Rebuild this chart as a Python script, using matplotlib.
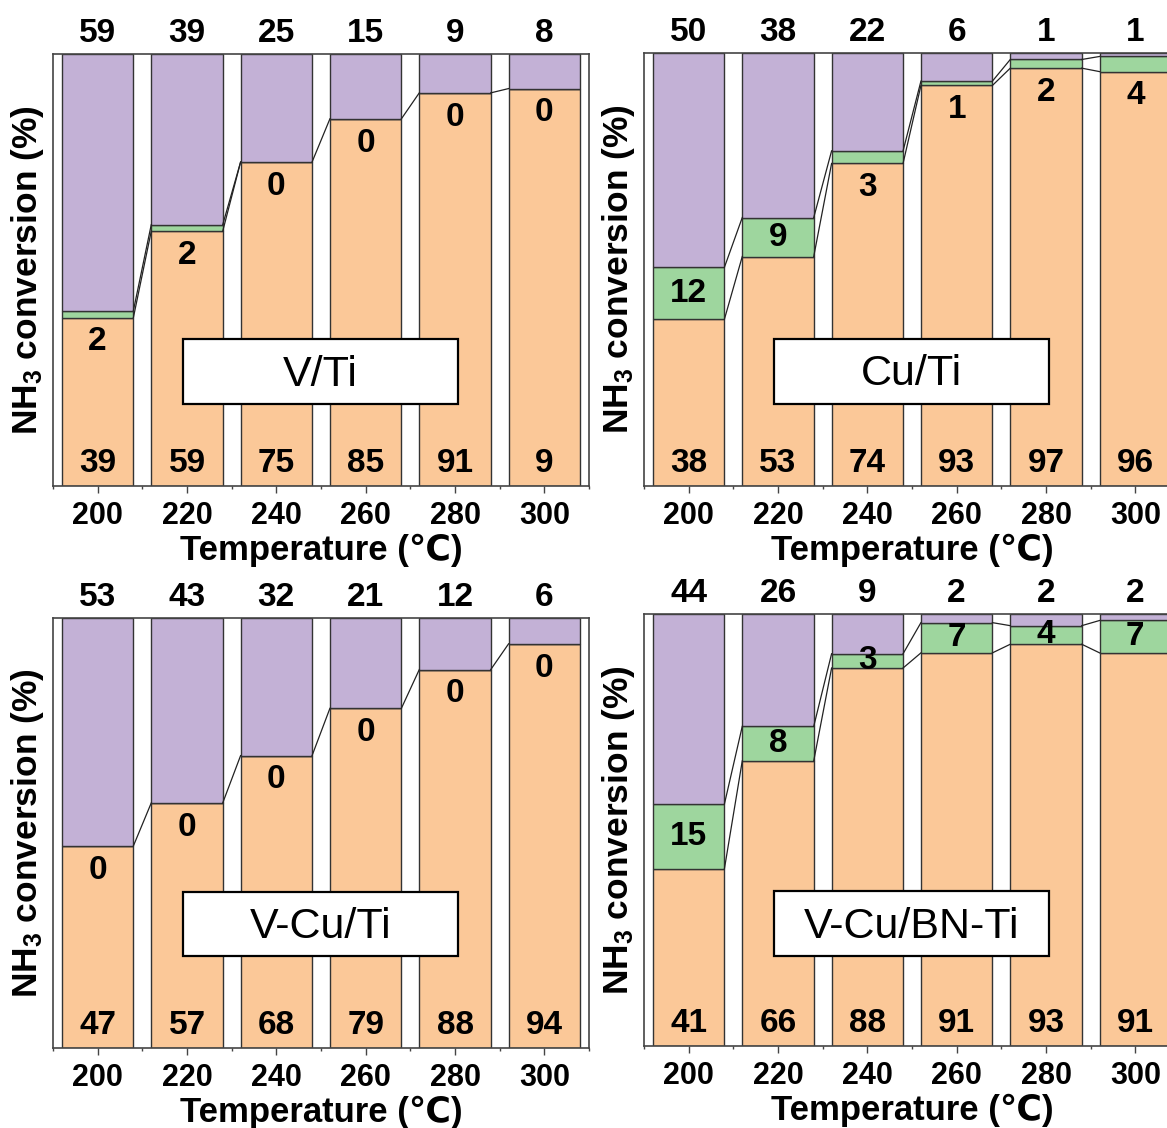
import matplotlib
matplotlib.use("Agg")
import matplotlib.pyplot as plt
from matplotlib.patches import Rectangle

plt.rcParams['font.family'] = ['Liberation Sans', 'DejaVu Sans']
plt.rcParams['mathtext.fontset'] = 'custom'
plt.rcParams['mathtext.rm'] = 'Liberation Sans:bold'
plt.rcParams['mathtext.default'] = 'rm'

# ---------------- data ----------------
temperatures = [200, 220, 240, 260, 280, 300]
catalysts = ["V/Ti", "Cu/Ti", "V-Cu/Ti", "V-Cu/BN-Ti"]

# V/Ti
vti_orange = [39, 59, 75, 85, 91, 92]
vti_green = [1.6, 1.5, 0, 0, 0, 0]
vti_purple = [59.4, 39.5, 25, 15, 9, 8]
vti_orange_lbl = ["39", "59", "75", "85", "91", "9"]
vti_green_lbl = ["2", "2", "0", "0", "0", "0"]
vti_purple_lbl = ["59", "39", "25", "15", "9", "8"]
vti_inside = [False, False, False, False, False, False]

# Cu/Ti
cuti_orange = [38.5, 53, 74.5, 92.5, 96.5, 95.7]
cuti_green = [12, 9, 2.9, 1, 2, 3.5]
cuti_purple = [49.5, 38, 22.6, 6.5, 1.5, 0.8]
cuti_orange_lbl = ["38", "53", "74", "93", "97", "96"]
cuti_green_lbl = ["12", "9", "3", "1", "2", "4"]
cuti_purple_lbl = ["50", "38", "22", "6", "1", "1"]
cuti_inside = [True, True, False, False, False, False]

# V-Cu/Ti
vcuti_orange = [47, 57, 68, 79, 88, 94]
vcuti_green = [0, 0, 0, 0, 0, 0]
vcuti_purple = [53, 43, 32, 21, 12, 6]
vcuti_orange_lbl = ["47", "57", "68", "79", "88", "94"]
vcuti_green_lbl = ["0", "0", "0", "0", "0", "0"]
vcuti_purple_lbl = ["53", "43", "32", "21", "12", "6"]
vcuti_inside = [False, False, False, False, False, False]

# V-Cu/BN-Ti
bn_orange = [41, 66, 87.5, 91, 93, 91]
bn_green = [15, 8, 3.3, 7, 4.3, 7.5]
bn_purple = [44, 26, 9.2, 2, 2.7, 1.5]
bn_orange_lbl = ["41", "66", "88", "91", "93", "91"]
bn_green_lbl = ["15", "8", "3", "7", "4", "7"]
bn_purple_lbl = ["44", "26", "9", "2", "2", "2"]
bn_inside = [True, True, True, True, True, True]

panels = [
    (vti_orange, vti_green, vti_purple, vti_orange_lbl, vti_green_lbl, vti_purple_lbl, vti_inside),
    (cuti_orange, cuti_green, cuti_purple, cuti_orange_lbl, cuti_green_lbl, cuti_purple_lbl, cuti_inside),
    (vcuti_orange, vcuti_green, vcuti_purple, vcuti_orange_lbl, vcuti_green_lbl, vcuti_purple_lbl, vcuti_inside),
    (bn_orange, bn_green, bn_purple, bn_orange_lbl, bn_green_lbl, bn_purple_lbl, bn_inside),
]

# ---------------- style ----------------
C_ORANGE = "#FBC898"
C_GREEN = "#9ED69E"
C_PURPLE = "#C3B1D6"
EDGE = "#333333"
W, H = 1167, 1128
BAR_W = 16
NUM_FS = 24

# axes boxes in pixels: left, top, right, bottom
boxes = [(53, 54, 589, 486), (644, 53, 1180, 486),
         (53, 618, 589, 1048), (644, 614, 1180, 1046)]
label_box_y = [0.19, 0.19, 0.213, 0.208]

fig = plt.figure(figsize=(W / 100, H / 100), dpi=100)

for idx, (orange, green, purple, olbl, glbl, plbl, inside) in enumerate(panels):
    l, t, r, b = boxes[idx]
    ax = fig.add_axes([l / W, 1 - b / H, (r - l) / W, (b - t) / H])
    cum = [o + g for o, g in zip(orange, green)]
    ax.bar(temperatures, orange, width=BAR_W, color=C_ORANGE, edgecolor=EDGE, linewidth=1, zorder=2)
    ax.bar(temperatures, green, width=BAR_W, bottom=orange, color=C_GREEN, edgecolor=EDGE, linewidth=1, zorder=2)
    ax.bar(temperatures, purple, width=BAR_W, bottom=cum, color=C_PURPLE, edgecolor=EDGE, linewidth=1, zorder=2)

    # connecting lines between adjacent bars
    for i in range(len(temperatures) - 1):
        x0 = temperatures[i] + BAR_W / 2
        x1 = temperatures[i + 1] - BAR_W / 2
        ax.plot([x0, x1], [orange[i], orange[i + 1]], color="#222222", lw=0.9, zorder=3)
        if green[i] > 0 or green[i + 1] > 0:
            ax.plot([x0, x1], [cum[i], cum[i + 1]], color="#222222", lw=0.9, zorder=3)

    for i, x in enumerate(temperatures):
        # unconverted (top) labels
        ax.annotate(plbl[i], xy=(x, 1), xycoords=('data', 'axes fraction'),
                    xytext=(0, 14.5), textcoords='offset points', ha='center', va='center',
                    fontsize=NUM_FS, fontweight='bold', annotation_clip=False)
        # orange labels at bottom
        ax.annotate(olbl[i], xy=(x, 0), xycoords=('data', 'axes fraction'),
                    xytext=(0, 16.5), textcoords='offset points', ha='center', va='center',
                    fontsize=NUM_FS, fontweight='bold', annotation_clip=False, zorder=4)
        # green labels
        if inside[i]:
            ax.text(x, orange[i] + green[i] / 2, glbl[i], ha='center', va='center',
                    fontsize=NUM_FS, fontweight='bold', zorder=4)
        else:
            ax.annotate(glbl[i], xy=(x, orange[i]), xytext=(0, -17.5),
                        textcoords='offset points', ha='center', va='center',
                        fontsize=NUM_FS, fontweight='bold', zorder=4)

    # catalyst label box
    by = label_box_y[idx]
    ax.add_patch(Rectangle((0.242, by), 0.514, 0.15, transform=ax.transAxes,
                           facecolor='white', edgecolor='black', linewidth=1.6, zorder=5))
    ax.text(0.499, by + 0.068, catalysts[idx], transform=ax.transAxes, ha='center', va='center',
            fontsize=31, zorder=6)

    ax.set_xlim(190, 310)
    ax.set_ylim(0, 100)
    ax.set_xticks(temperatures)
    ax.set_xticklabels([str(tk) for tk in temperatures])
    ax.set_xticks([190, 210, 230, 250, 270, 290, 310], minor=True)
    ax.tick_params(axis='x', which='major', length=5, width=1, pad=5.5, labelsize=22,
                   color='#444444')
    ax.tick_params(axis='x', which='minor', length=2.5, width=1, color='#444444')
    for lab in ax.get_xticklabels():
        lab.set_fontweight('bold')
    ax.set_yticks([])
    for sp in ax.spines.values():
        sp.set_color('#444444')
        sp.set_linewidth(1.2)
    ax.set_xlabel("Temperature (℃)", fontsize=25, fontweight='bold', labelpad=2.5)
    ax.set_ylabel("NH$_3$ conversion (%)", fontsize=25.5, fontweight='bold', labelpad=5)

fig.savefig("out.png", dpi=100)
